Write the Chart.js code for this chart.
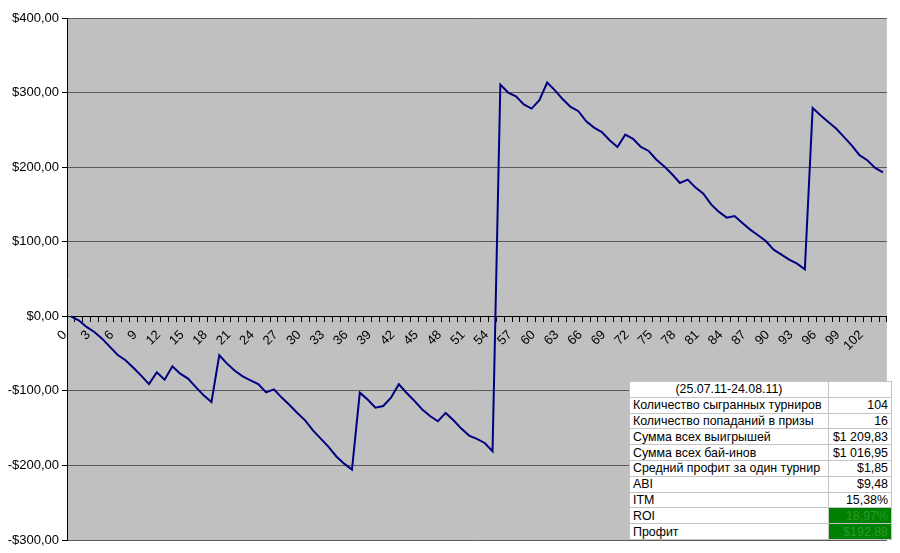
<!DOCTYPE html>
<html>
<head>
<meta charset="utf-8">
<script src="https://cdn.jsdelivr.net/npm/chart.js@4/dist/chart.umd.min.js"></script>
<style>
html,body{margin:0;padding:0;background:#fff;}
#wrap{position:relative;width:900px;height:553px;overflow:hidden;}
#c{position:absolute;left:0;top:0;}
#stats{position:absolute;left:629px;top:381px;width:262px;height:158px;border-collapse:collapse;
  font-family:"Liberation Sans",Arial,sans-serif;font-size:12.4px;color:#000;background:#fff;table-layout:fixed;}
#stats td{border:1px solid #c4c4c4;padding:0 3px;white-space:nowrap;overflow:hidden;line-height:14px;}
#stats td.v{text-align:right;}
#stats td.h{text-align:center;}
#stats td.g{background:#008000;color:#2a9a2a;}
#stats tr{height:15.8px;}
</style>
</head>
<body>
<div id="wrap">
<canvas id="c" width="900" height="553"></canvas>
<table id="stats">
<colgroup><col style="width:199px"><col style="width:63px"></colgroup>
<tbody id="tb"></tbody>
</table>
</div>
<script>
// ---- data ----
const categories = Array.from({length: 105}, (_, i) => String(i));
const profit = [
  0, -5.4, -14.3, -21, -30, -41, -52, -59, -69, -79.6,
  -91, -75, -85, -67, -77, -83.6, -95, -106, -115, -52.3,
  -63.5, -73, -80.5, -85.8, -91, -102, -98, -109, -119, -129.6,
  -139.5, -153, -164, -175, -188, -197.6, -205.6, -102.4, -111.7, -122.5,
  -120.3, -109, -91.2, -102.8, -113.5, -125, -133.7, -140.8, -129.6, -139.5,
  -150.6, -160, -164.5, -169.9, -181, 310.7, 300, 295, 284, 278.5,
  289.7, 313.4, 303, 291, 280.7, 275, 261.5, 253, 247, 236,
  227, 243.6, 238, 227, 221.7, 210, 201, 190.4, 178.8, 183.3,
  172.6, 164.5, 150, 140, 132.3, 134.5, 125, 116.2, 108.6, 101,
  89.4, 82.7, 76, 70.6, 63, 279.4, 269.5, 260.6, 251.7, 240.5,
  229.3, 216, 209.2, 199, 192.88
];
const yMin = -300, yMax = 400, yStep = 100;
const statLabels = [
  "(25.07.11-24.08.11)",
  "Количество сыгранных турниров",
  "Количество попаданий в призы",
  "Сумма всех выигрышей",
  "Сумма всех бай-инов",
  "Средний профит за один турнир",
  "ABI",
  "ITM",
  "ROI",
  "Профит"
];
const statValues = ["", "104", "16", "$1 209,83", "$1 016,95", "$1,85", "$9,48", "15,38%", "18,97%", "$192,88"];
const highlighted = ["ROI", "Профит"];

// ---- table ----
const tb = document.getElementById('tb');
statLabels.forEach((lab, i) => {
  const tr = document.createElement('tr');
  const a = document.createElement('td');
  a.textContent = lab;
  if (i === 0) a.className = 'h';
  const b = document.createElement('td');
  b.textContent = statValues[i];
  b.className = 'v' + (highlighted.includes(lab) ? ' g' : '');
  tr.appendChild(a); tr.appendChild(b);
  tb.appendChild(tr);
});

// ---- chart ----
const plotBg = {
  id: 'plotBg',
  beforeDraw(chart) {
    const {ctx, chartArea: a} = chart;
    ctx.save();
    ctx.fillStyle = '#c0c0c0';
    ctx.fillRect(a.left, a.top, a.right - a.left, a.bottom - a.top);
    ctx.restore();
  }
};
const fmt = v => (v < 0 ? '-' : '') + '$' + Math.abs(v) + ',00';
const font = {family: '"Liberation Sans", Arial, sans-serif', size: 13};

new Chart(document.getElementById('c'), {
  type: 'line',
  data: {
    labels: categories,
    datasets: [{
      data: profit,
      borderColor: '#000080',
      borderWidth: 2,
      pointRadius: 0,
      tension: 0,
      fill: false
    }]
  },
  options: {
    responsive: false,
    animation: false,
    layout: {padding: {left: 0, right: 8, top: 18, bottom: 13}},
    plugins: {legend: {display: false}, tooltip: {enabled: false}},
    scales: {
      x: {
        type: 'category',
        offset: true,
        position: {y: 0},
        grid: {display: true, drawOnChartArea: false, drawTicks: true, tickLength: 5, color: '#000', offset: true},
        border: {display: true, color: '#000', width: 1},
        ticks: {
          autoSkip: false, maxRotation: 45, minRotation: 45, padding: 6, labelOffset: -6,
          font: font, color: '#000',
          callback: (v, i) => (i % 3 === 0 ? categories[i] : '')
        }
      },
      y: {
        min: yMin, max: yMax,
        afterFit(s) { s.width = 67; },
        ticks: {stepSize: yStep, callback: fmt, font: font, color: '#000', padding: 3},
        grid: {color: '#5a5a5a', tickColor: '#000', tickLength: 5, drawTicks: true},
        border: {display: true, color: '#000', width: 1}
      }
    }
  },
  plugins: [plotBg]
});
</script>
</body>
</html>
